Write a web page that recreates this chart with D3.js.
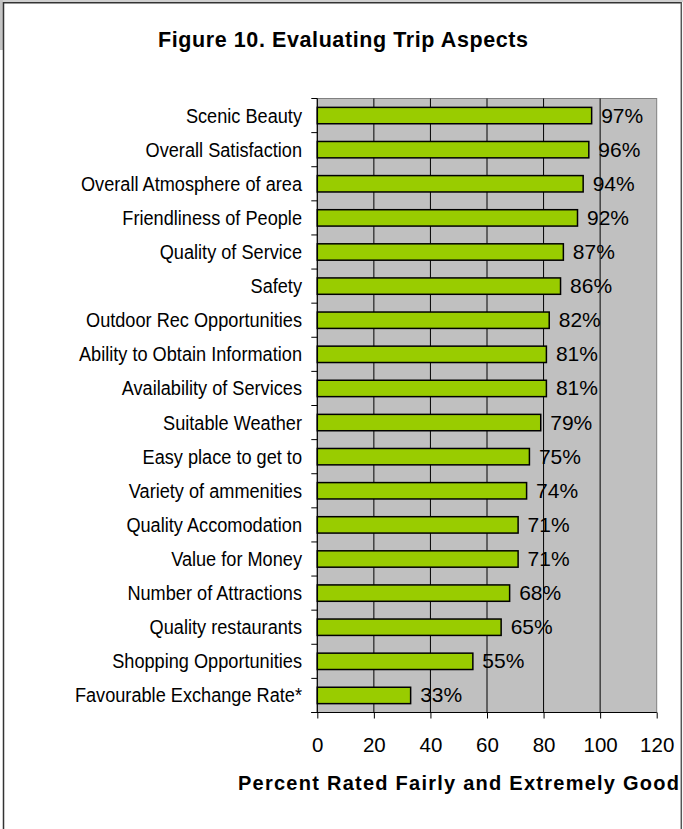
<!DOCTYPE html>
<html>
<head>
<meta charset="utf-8">
<script src="https://cdn.jsdelivr.net/npm/d3@7"></script>
<style>
  html, body { margin: 0; padding: 0; background: #fff; }
  svg { display: block; font-family: "Liberation Sans", Arial, sans-serif; }
</style>
</head>
<body>
<svg id="chart" width="683" height="829"></svg>
<script>
const categories = [
  "Scenic Beauty",
  "Overall Satisfaction",
  "Overall Atmosphere of area",
  "Friendliness of People",
  "Quality of Service",
  "Safety",
  "Outdoor Rec Opportunities",
  "Ability to Obtain Information",
  "Availability of Services",
  "Suitable Weather",
  "Easy place to get to",
  "Variety of ammenities",
  "Quality Accomodation",
  "Value for Money",
  "Number of Attractions",
  "Quality restaurants",
  "Shopping Opportunities",
  "Favourable Exchange Rate*"
];
const values = [97, 96, 94, 92, 87, 86, 82, 81, 81, 79, 75, 74, 71, 71, 68, 65, 55, 33];
const xTicks = [0, 20, 40, 60, 80, 100, 120];
const titleText = "Figure 10.  Evaluating Trip Aspects";
const xAxisTitle = "Percent Rated Fairly and Extremely Good";

const svg = d3.select("#chart");

// page decorations
svg.append("rect").attr("x", 0).attr("y", 0).attr("width", 683).attr("height", 2).attr("fill", "#d0d0d0");
svg.append("rect").attr("x", 0).attr("y", 0).attr("width", 3).attr("height", 50).attr("fill", "#c4c4c4");
svg.append("line").attr("x1", 3.5).attr("x2", 3.5).attr("y1", 2).attr("y2", 829).attr("stroke", "#333").attr("stroke-width", 1.5);
svg.append("line").attr("x1", 3).attr("x2", 682).attr("y1", 2.75).attr("y2", 2.75).attr("stroke", "#333").attr("stroke-width", 1.5);
svg.append("line").attr("x1", 681.3).attr("x2", 681.3).attr("y1", 2).attr("y2", 829).attr("stroke", "#555").attr("stroke-width", 1.5);

const x = d3.scaleLinear().domain([0, 120]).range([317.3, 656.7]);
const y = d3.scaleBand().domain(categories).range([98.5, 712.5]).paddingInner(0.52).paddingOuter(0.26);

const plotTop = 98.5, plotBottom = 712.5;

// plot area
svg.append("rect")
  .attr("x", x(0)).attr("y", plotTop)
  .attr("width", x(120) - x(0)).attr("height", plotBottom - plotTop)
  .attr("fill", "#c0c0c0").attr("stroke", "#808080").attr("stroke-width", 1);

// gridlines
svg.append("g").selectAll("line")
  .data(xTicks.filter(t => t > 0 && t < 120))
  .join("line")
  .attr("x1", d => x(d)).attr("x2", d => x(d))
  .attr("y1", plotTop).attr("y2", plotBottom)
  .attr("stroke", "#000").attr("stroke-width", 1);

// bars
svg.append("g").selectAll("rect")
  .data(values)
  .join("rect")
  .attr("x", x(0))
  .attr("y", (d, i) => y(categories[i]))
  .attr("width", d => x(d) - x(0))
  .attr("height", y.bandwidth())
  .attr("fill", "#99cc00")
  .attr("stroke", "#000")
  .attr("stroke-width", 1.5);

// value labels
svg.append("g").selectAll("text")
  .data(values)
  .join("text")
  .attr("x", d => x(d) + 9.5)
  .attr("y", (d, i) => y(categories[i]) + y.bandwidth() / 2 + 7)
  .attr("font-size", 21)
  .attr("fill", "#000")
  .text(d => d + "%");

// left axis line + ticks at band boundaries
svg.append("line").attr("x1", x(0)).attr("x2", x(0)).attr("y1", plotTop).attr("y2", plotBottom)
  .attr("stroke", "#000").attr("stroke-width", 1.2);
const bounds = d3.range(categories.length + 1).map(i => plotTop + i * (plotBottom - plotTop) / categories.length);
svg.append("g").selectAll("line")
  .data(bounds)
  .join("line")
  .attr("x1", x(0) - 6).attr("x2", x(0))
  .attr("y1", d => d).attr("y2", d => d)
  .attr("stroke", "#000").attr("stroke-width", 1);

// category labels (condensed, as in the reference rendering)
svg.append("g").selectAll("text")
  .data(categories)
  .join("text")
  .attr("transform", d => `translate(302,${y(d) + y.bandwidth() / 2 + 7}) scale(0.865,1)`)
  .attr("text-anchor", "end")
  .attr("font-size", 21)
  .attr("fill", "#000")
  .text(d => d);

// bottom axis
const xAxis = d3.axisBottom(x).tickValues(xTicks).tickSize(6).tickPadding(19).tickFormat(d3.format("d"));
const gx = svg.append("g").attr("transform", `translate(0,${plotBottom})`).call(xAxis);
gx.select(".domain").attr("stroke", "#000").attr("stroke-width", 1.2).attr("d", `M${x(0) - 6},0H${x(120)}`);
gx.selectAll(".tick line").attr("stroke", "#000");
gx.selectAll(".tick text").attr("font-size", 20.5)
  .attr("font-family", '"Liberation Sans", Arial, sans-serif').attr("fill", "#000");

// title
svg.append("text")
  .attr("x", 158).attr("y", 46.5)
  .attr("font-size", 21.5).attr("font-weight", "bold")
  .attr("textLength", 370).attr("lengthAdjust", "spacing")
  .text(titleText);

// axis title
svg.append("text")
  .attr("x", 238).attr("y", 790)
  .attr("font-size", 20).attr("font-weight", "bold")
  .attr("textLength", 441).attr("lengthAdjust", "spacing")
  .text(xAxisTitle);
</script>
</body>
</html>
